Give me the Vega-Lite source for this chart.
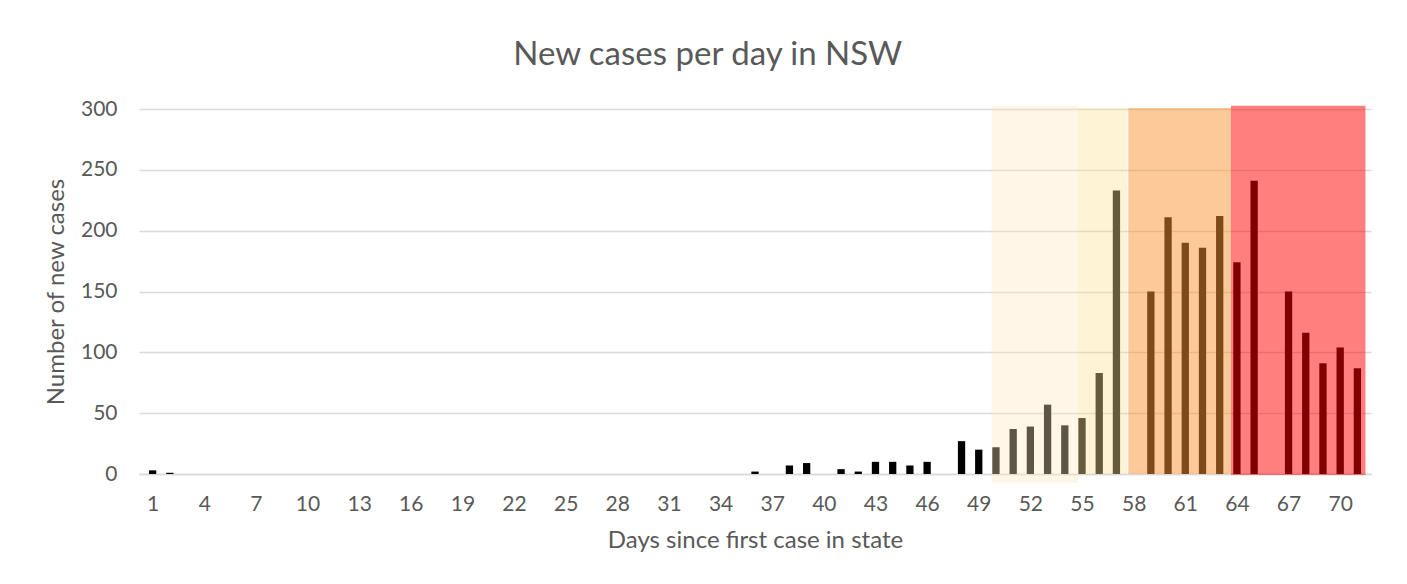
{
  "$schema": "https://vega.github.io/schema/vega-lite/v6.json",
  "width": 1232,
  "height": 365,
  "autosize": {"type": "none"},
  "padding": {"left": 139, "top": 109, "right": 36, "bottom": 110},
  "background": "white",
  "config": {
    "view": {"stroke": null},
    "font": "Lato",
    "axis": {"labelColor": "#595959", "titleColor": "#595959", "labelFont": "Lato", "titleFont": "Lato", "titleFontWeight": "normal"}
  },
  "title": {
    "text": "New cases per day in NSW",
    "font": "Lato",
    "fontSize": 33,
    "fontWeight": "normal",
    "color": "#595959",
    "anchor": "middle",
    "frame": "bounds",
    "offset": 26
  },
  "datasets": {
    "cases": [
      {"day": 1, "cases": 3}, {"day": 2, "cases": 1}, {"day": 3, "cases": 0}, {"day": 4, "cases": 0},
      {"day": 5, "cases": 0}, {"day": 6, "cases": 0}, {"day": 7, "cases": 0}, {"day": 8, "cases": 0},
      {"day": 9, "cases": 0}, {"day": 10, "cases": 0}, {"day": 11, "cases": 0}, {"day": 12, "cases": 0},
      {"day": 13, "cases": 0}, {"day": 14, "cases": 0}, {"day": 15, "cases": 0}, {"day": 16, "cases": 0},
      {"day": 17, "cases": 0}, {"day": 18, "cases": 0}, {"day": 19, "cases": 0}, {"day": 20, "cases": 0},
      {"day": 21, "cases": 0}, {"day": 22, "cases": 0}, {"day": 23, "cases": 0}, {"day": 24, "cases": 0},
      {"day": 25, "cases": 0}, {"day": 26, "cases": 0}, {"day": 27, "cases": 0}, {"day": 28, "cases": 0},
      {"day": 29, "cases": 0}, {"day": 30, "cases": 0}, {"day": 31, "cases": 0}, {"day": 32, "cases": 0},
      {"day": 33, "cases": 0}, {"day": 34, "cases": 0}, {"day": 35, "cases": 0}, {"day": 36, "cases": 2},
      {"day": 37, "cases": 0}, {"day": 38, "cases": 7}, {"day": 39, "cases": 9}, {"day": 40, "cases": 0},
      {"day": 41, "cases": 4}, {"day": 42, "cases": 2}, {"day": 43, "cases": 10}, {"day": 44, "cases": 10},
      {"day": 45, "cases": 7}, {"day": 46, "cases": 10}, {"day": 47, "cases": 0}, {"day": 48, "cases": 27},
      {"day": 49, "cases": 20}, {"day": 50, "cases": 22}, {"day": 51, "cases": 37}, {"day": 52, "cases": 39},
      {"day": 53, "cases": 57}, {"day": 54, "cases": 40}, {"day": 55, "cases": 46}, {"day": 56, "cases": 83},
      {"day": 57, "cases": 233}, {"day": 58, "cases": 0}, {"day": 59, "cases": 150}, {"day": 60, "cases": 211},
      {"day": 61, "cases": 190}, {"day": 62, "cases": 186}, {"day": 63, "cases": 212}, {"day": 64, "cases": 174},
      {"day": 65, "cases": 241}, {"day": 66, "cases": 0}, {"day": 67, "cases": 150}, {"day": 68, "cases": 116},
      {"day": 69, "cases": 91}, {"day": 70, "cases": 104}, {"day": 71, "cases": 87}
    ],
    "phases": [
      {"phase": "A", "start": 49.75, "end": 54.77, "low": -7.2, "high": 302.7},
      {"phase": "B", "start": 54.77, "end": 57.62, "low": 0, "high": 300.8},
      {"phase": "C", "start": 57.69, "end": 63.65, "low": 0, "high": 300.8},
      {"phase": "D", "start": 63.65, "end": 71.47, "low": -0.8, "high": 302.7}
    ]
  },
  "layer": [
    {
      "data": {"name": "cases"},
      "mark": {"type": "bar", "color": "#000000", "width": 7.3},
      "encoding": {
        "x": {
          "field": "day", "type": "quantitative",
          "scale": {"domain": [0.5, 71.5], "nice": false, "zero": false},
          "axis": {
            "title": "Days since first case in state",
            "titleFontSize": 24,
            "titlePadding": 14,
            "labelFontSize": 21,
            "labelPadding": 19,
            "values": [1, 4, 7, 10, 13, 16, 19, 22, 25, 28, 31, 34, 37, 40, 43, 46, 49, 52, 55, 58, 61, 64, 67, 70],
            "grid": false,
            "ticks": false,
            "domain": true,
            "domainColor": "#D9D9D9",
            "domainWidth": 1.5,
            "labelFlush": false
          }
        },
        "y": {
          "field": "cases", "type": "quantitative",
          "scale": {"domain": [0, 300], "nice": false},
          "axis": {
            "title": "Number of new cases",
            "titleFontSize": 24,
            "titlePadding": 12,
            "labelFontSize": 21,
            "labelPadding": 22,
            "values": [0, 50, 100, 150, 200, 250, 300],
            "grid": true,
            "gridColor": "#D9D9D9",
            "gridWidth": 1.5,
            "ticks": false,
            "domain": false
          }
        }
      }
    },
    {
      "data": {"name": "phases"},
      "mark": {"type": "rect"},
      "encoding": {
        "x": {"field": "start", "type": "quantitative"},
        "x2": {"field": "end"},
        "y": {"field": "low", "type": "quantitative"},
        "y2": {"field": "high"},
        "color": {
          "field": "phase", "type": "nominal",
          "scale": {"domain": ["A", "B", "C", "D"], "range": ["rgba(254,230,189,0.37)", "rgba(255,225,153,0.4)", "rgba(253,147,51,0.5)", "rgba(255,0,0,0.5)"]},
          "legend": null
        }
      }
    }
  ]
}
